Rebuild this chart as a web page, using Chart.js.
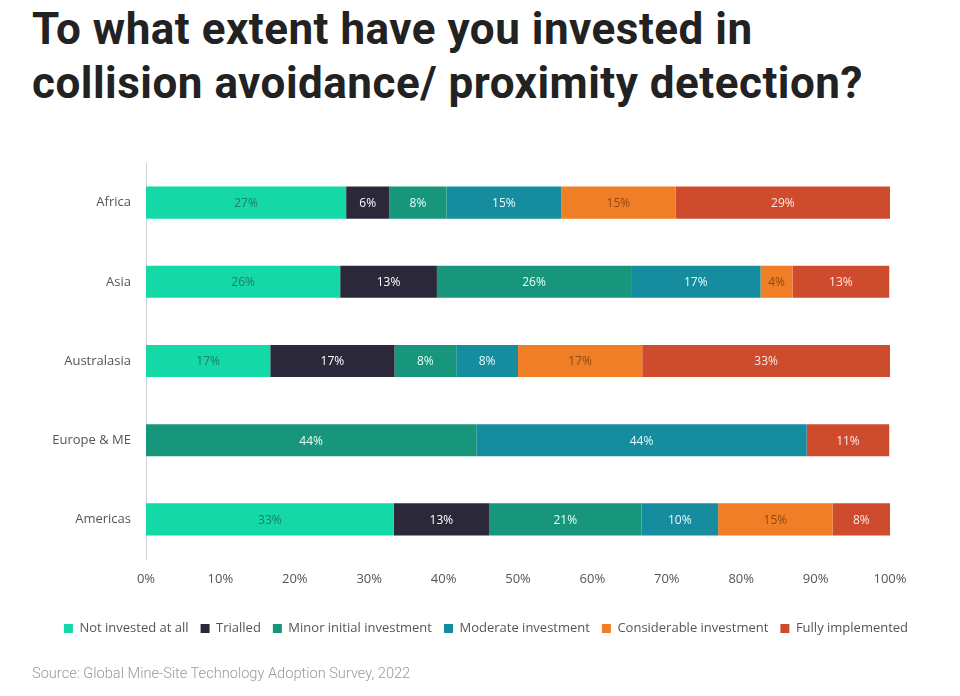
<!DOCTYPE html>
<html>
<head>
<meta charset="utf-8">
<script src="https://cdn.jsdelivr.net/npm/chart.js@4/dist/chart.umd.min.js"></script>
<style>
  html, body { margin:0; padding:0; background:#fff; }
  #wrap { position:relative; width:960px; height:696px; overflow:hidden; }
  #title { position:absolute; left:32px; top:2px; font-family:Roboto, sans-serif; font-weight:700; font-size:44px; line-height:54px; color:#222; white-space:nowrap; letter-spacing:0.5px; }
  #source { position:absolute; left:32px; top:664px; font-family:Roboto, sans-serif; font-weight:300; font-size:14.6px; color:#9a9a9a; white-space:nowrap; }
  canvas { position:absolute; left:0; top:0; }
</style>
</head>
<body>
<div id="wrap">
  <div id="title">To what extent have you invested in<br>collision avoidance/ proximity detection?</div>
  <canvas id="c" width="960" height="696"></canvas>
  <div id="source">Source: Global Mine-Site Technology Adoption Survey, 2022</div>
</div>
<script>
const categories = ["Africa", "Asia", "Australasia", "Europe & ME", "Americas"];
const seriesNames = ["Not invested at all", "Trialled", "Minor initial investment", "Moderate investment", "Considerable investment", "Fully implemented"];
const notInvested   = [26.9, 26.1, 16.7, 0,    33.3];
const trialled      = [5.8,  13.0, 16.7, 0,    12.8];
const minorInitial  = [7.7,  26.1, 8.3,  44.4, 20.5];
const moderate      = [15.4, 17.4, 8.3,  44.4, 10.3];
const considerable  = [15.4, 4.3,  16.7, 0,    15.4];
const fully         = [28.8, 13.0, 33.3, 11.1, 7.7];
const xTicks = [0, 10, 20, 30, 40, 50, 60, 70, 80, 90, 100];

const seriesValues = [notInvested, trialled, minorInitial, moderate, considerable, fully];
const colors = ["#14D8A6", "#2B2839", "#17967B", "#168C9F", "#F07E26", "#CF4B2D"];
const labelColors = ["#1E7D6B", "#ffffff", "#e8fff8", "#e8fbff", "#8A4A18", "#fbe9e4"];

const datasets = seriesNames.map((n, i) => ({
  label: n,
  data: seriesValues[i],
  backgroundColor: colors[i],
  borderWidth: 0,
  barPercentage: 0.81,
  categoryPercentage: 0.5
}));

const labelPlugin = {
  id: 'segLabels',
  afterLayout(chart) {
    if (chart.legend) { chart.legend.left += 41; chart.legend.right += 41; }
  },
  afterDatasetsDraw(chart) {
    const ctx = chart.ctx;
    ctx.save();
    ctx.font = '12px "Open Sans", sans-serif';
    ctx.textAlign = 'center';
    ctx.textBaseline = 'middle';
    chart.data.datasets.forEach((ds, di) => {
      const meta = chart.getDatasetMeta(di);
      meta.data.forEach((bar, i) => {
        const v = ds.data[i];
        if (!v) return;
        const cx = (bar.x + bar.base) / 2;
        ctx.fillStyle = labelColors[di];
        ctx.fillText(Math.round(v) + '%', cx, bar.y + 1);
      });
    });
    ctx.restore();
  }
};

new Chart(document.getElementById('c'), {
  type: 'bar',
  data: { labels: categories, datasets },
  options: {
    indexAxis: 'y',
    responsive: false,
    animation: false,
    layout: { padding: { top: 163, right: 70, bottom: 51, left: 0 } },
    plugins: {
      legend: {
        position: 'bottom',
        labels: {
          boxWidth: 9, boxHeight: 9, padding: 12,
          color: '#555', font: { family: '"Open Sans", sans-serif', size: 13 }
        }
      },
      tooltip: { enabled: false }
    },
    scales: {
      x: {
        stacked: true, min: 0, max: 100,
        afterBuildTicks(s) { s.ticks = xTicks.map(v => ({ value: v })); },
        grid: { display: false, drawTicks: false },
        border: { display: false },
        ticks: { color: '#555', padding: 12, font: { family: '"Open Sans", sans-serif', size: 13 }, callback: v => v + '%' },
        afterFit(s) { s.height = 51; }
      },
      y: {
        stacked: true,
        grid: { display: false, drawTicks: false },
        border: { display: true, color: '#d0d0d0', width: 1 },
        ticks: { color: '#555', padding: 15, font: { family: '"Open Sans", sans-serif', size: 13 } },
        afterFit(s) { s.width = 146; }
      }
    }
  },
  plugins: [labelPlugin]
});
</script>
</body>
</html>
